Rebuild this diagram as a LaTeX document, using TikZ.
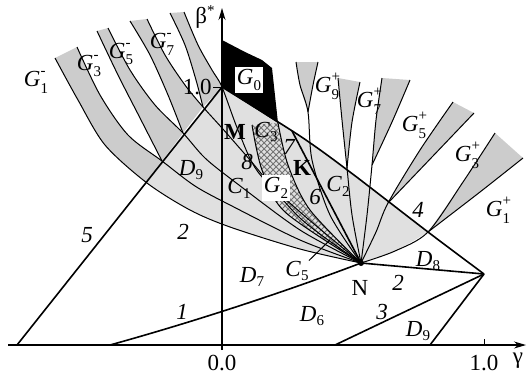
\documentclass[tikz,border=0pt]{standalone}
\usepackage{fontspec}
\setmainfont{Liberation Serif}
\usetikzlibrary{patterns,arrows.meta}

\newcommand\lblsize{\fontsize{11.5}{13}\selectfont}
\newcommand\subsz{\fontsize{7.5}{8}\selectfont}
\newcommand\Glab[2]{\textit{G}\makebox[0pt][l]{\raisebox{1.1ex}{\subsz #2}}\raisebox{-0.6ex}{\subsz #1}}
\newcommand\Dlab[1]{\textit{D}\raisebox{-0.45ex}{\subsz #1}}
\newcommand\Clab[1]{\textit{C}\raisebox{-0.45ex}{\subsz #1}}

\begin{document}
\begin{tikzpicture}[x=0.5pt,y=-0.5pt,
  every node/.style={font=\lblsize,inner sep=0pt},
  lbl/.style={font=\lblsize\itshape},
  thin line/.style={line width=0.5pt},
  main line/.style={line width=0.8pt},
  zone/.style={fill=black!12},
  tongue/.style={fill=black!20},
  gridzone/.style={pattern=crosshatch,pattern color=black!55},
  ax/.style={line width=0.6pt,-{Stealth[length=6pt,width=3.5pt]}}]
  \useasboundingbox (0,0) rectangle (528,377);

  % key points
  \coordinate (O) at (222,345);
  \coordinate (T) at (222,87);
  \coordinate (N) at (361,263);
  \coordinate (P) at (484,274);
  \coordinate (A5) at (17,345);
  \coordinate (A1) at (110,345);
  \coordinate (A3) at (335,345);
  \coordinate (A9) at (430,345);
  \coordinate (X0) at (147,183);
  \coordinate (X1) at (162,161);
  \coordinate (X2) at (183,133);
  \coordinate (X3) at (203,107);
  \coordinate (Q1) at (428,232);
  \coordinate (Q3) at (388,203);
  \coordinate (Q5) at (372,165);
  \coordinate (Q7) at (347,168);
  \coordinate (Q9) at (308,112);
  \coordinate (L4) at (292,131);
  \coordinate (Gc) at (278,123);

  % shaded zone
  \fill[zone] (T) -- (X0)
    -- plot[smooth] coordinates {(X0) (190,210) (230,227) (300,249) (N)}
    -- plot[smooth] coordinates {(N) (395,251) (Q1)}
    -- plot[smooth] coordinates {(Q1) (350,172) (300,136) (T)} -- cycle;

  % tongues G^-
  \fill[tongue] plot[smooth] coordinates {(X0) (105,145) (78,100) (55,58)}
    -- plot[smooth] coordinates {(77,47) (100,95) (128,135) (X1)} -- cycle;
  \fill[tongue] plot[smooth] coordinates {(X1) (140,118) (118,75) (97,31)}
    -- plot[smooth] coordinates {(108,28) (130,70) (155,105) (X2)} -- cycle;
  \fill[tongue] plot[smooth] coordinates {(X2) (168,95) (150,55) (130,21)}
    -- plot[smooth] coordinates {(147,19) (165,55) (185,85) (X3)} -- cycle;
  \fill[tongue] plot[smooth] coordinates {(X3) (196,80) (185,45) (170,13)}
    -- plot[smooth] coordinates {(184,12) (198,45) (212,70) (T)} -- cycle;

  % tongues G^+
  \fill[tongue] plot[smooth] coordinates {(Q1) (463,182) (495,133)}
    -- plot[smooth] coordinates {(523,158) (480,192) (Q1)} -- cycle;
  \fill[tongue] plot[smooth] coordinates {(Q3) (420,150) (453,102)}
    -- plot[smooth] coordinates {(474,113) (432,157) (Q3)} -- cycle;
  \fill[tongue] plot[smooth] coordinates {(Q5) (376,120) (382,78)}
    -- plot[smooth] coordinates {(410,80) (392,122) (Q5)} -- cycle;
  \fill[tongue] plot[smooth] coordinates {(Q7) (342,120) (338,78)}
    -- plot[smooth] coordinates {(360,82) (352,122) (Q7)} -- cycle;
  \fill[tongue] plot[smooth] coordinates {(Q9) (300,85) (296,62)}
    -- plot[smooth] coordinates {(318,62) (313,85) (Q9)} -- cycle;

  % G2 grid zone
  \fill[gridzone] plot[smooth] coordinates {(252,125) (262,170) (285,212) (N)}
    -- plot[smooth] coordinates {(N) (310,210) (288,165) (Gc)} -- cycle;

  % G0 black zone
  \fill (222,40) -- (245,52) -- (262,60) -- (272,68) -- (Gc) -- (T) -- cycle;

  % axes
  \coordinate (xl) at (8,345);
  \coordinate (xr) at (526,345);
  \coordinate (yb) at (222,350);
  \coordinate (yt) at (222,8);
  \draw[ax] (xl) -- (xr);
  \draw[ax] (yb) -- (yt);
  \draw[thin line] (484,345) -- (484,339);
  \draw[thin line] (213,87) -- (T);

  % straight lines
  \draw[main line] (A5) -- (T);
  \draw[main line] plot[smooth] coordinates {(T) (300,136) (350,172) (Q1) (P)};
  \draw[main line] (A1) .. controls (200,320) and (290,290) .. (N);
  \draw[main line] (N) -- (P);
  \draw[main line] (A3) -- (P);
  \draw[main line] (A9) -- (P);
  \draw[main line] (L4) -- (N);

  % fan of curves towards N (left side)
  \draw[thin line] plot[smooth] coordinates {(55,58) (78,100) (105,145) (X0) (190,210) (230,227) (300,249) (N)};
  \draw[thin line] plot[smooth] coordinates {(77,47) (100,95) (128,135) (X1) (195,186) (230,205) (300,240) (N)};
  \draw[thin line] plot[smooth] coordinates {(97,31) (118,75) (140,118) (X1)};
  \draw[thin line] plot[smooth] coordinates {(108,28) (130,70) (155,105) (X2) (205,158) (235,182) (300,230) (N)};
  \draw[thin line] plot[smooth] coordinates {(130,21) (150,55) (168,95) (X2)};
  \draw[thin line] plot[smooth] coordinates {(147,19) (165,55) (185,85) (X3) (222,128) (250,160) (300,218) (N)};
  \draw[thin line] plot[smooth] coordinates {(170,13) (185,45) (196,80) (X3)};
  \draw[thin line] plot[smooth] coordinates {(184,12) (198,45) (212,70) (T) (238,130) (258,172) (300,212) (N)};
  \draw[thin line] plot[smooth] coordinates {(252,125) (262,170) (285,212) (N)};
  \draw[thin line] plot[smooth] coordinates {(Gc) (288,165) (310,210) (N)};

  % fan of curves towards N (right side)
  \draw[thin line] plot[smooth] coordinates {(N) (395,251) (Q1) (463,182) (495,133)};
  \draw[thin line] plot[smooth] coordinates {(Q1) (480,192) (523,158)};
  \draw[thin line] plot[smooth] coordinates {(N) (376,232) (Q3) (420,150) (453,102)};
  \draw[thin line] plot[smooth] coordinates {(Q3) (432,157) (474,113)};
  \draw[thin line] plot[smooth] coordinates {(N) (367,215) (Q5) (376,120) (382,78)};
  \draw[thin line] plot[smooth] coordinates {(Q5) (392,122) (410,80)};
  \draw[thin line] plot[smooth] coordinates {(N) (352,215) (Q7) (342,120) (338,78)};
  \draw[thin line] plot[smooth] coordinates {(Q7) (352,122) (360,82)};
  \draw[thin line] plot[smooth] coordinates {(N) (330,215) (312,160) (Q9) (300,85) (296,62)};
  \draw[thin line] plot[smooth] coordinates {(Q9) (313,85) (318,62)};

  \fill (N) circle[radius=3];

  % axis labels
  \node (t0) at (222,363) {0.0};
  \node (t1) at (484,363) {1.0};
  \node (gam) at (518,361) {γ};
  \node[anchor=east] (b1) at (212,87) {1.0};
  \node (bet) at (205,17) {β\raisebox{0.7ex}{\subsz *}};

  % region labels
  \node[fill=white,inner sep=1pt] (g0) at (249,80) {\Glab{0}{}};
  \node (gm1) at (36,82) {\Glab{1}{-}};
  \node (gm3) at (89,66) {\Glab{3}{-}};
  \node (gm5) at (121,54) {\Glab{5}{-}};
  \node (gm7) at (162,44) {\Glab{7}{-}};
  \node (gp9) at (327,86) {\Glab{9}{+}};
  \node (gp7) at (369,101) {\Glab{7}{+}};
  \node (gp5) at (414,125) {\Glab{5}{+}};
  \node (gp3) at (467,155) {\Glab{3}{+}};
  \node (gp1) at (498,210) {\Glab{1}{+}};
  \node[fill=white,inner sep=1pt] (g2) at (276,188) {\Glab{2}{}};
  \node (d9a) at (191,170) {\Dlab{9}};
  \node (d7) at (252,277) {\Dlab{7}};
  \node (d6) at (312,316) {\Dlab{6}};
  \node (d8) at (428,261) {\Dlab{8}};
  \node (d9b) at (418,331) {\Dlab{9}};
  \node (c1) at (239,188) {\Clab{1}};
  \node (c2) at (338,186) {\Clab{2}};
  \node (c3) at (266,132) {\Clab{3}};
  \node (c5) at (297,271) {\Clab{5}};
  \draw[thin line] (c5.north east) -- (330,240);

  % line numbers and points
  \node[lbl] (n1) at (182,312) {1};
  \node[lbl] (n2a) at (183,232) {2};
  \node[lbl] (n2b) at (398,283) {2};
  \node[lbl] (n3) at (382,312) {3};
  \node[lbl] (n4) at (418,210) {4};
  \node[lbl] (n5) at (87,235) {5};
  \node[lbl] (n6) at (315,197) {6};
  \node[lbl] (n7) at (289,147) {7};
  \node[lbl] (n8) at (247,162) {8};
  \node (M) at (235,132) {\textbf{M}};
  \node (K) at (302,168) {\textbf{K}};
  \node (Nl) at (360,288) {N};
\end{tikzpicture}
\end{document}
